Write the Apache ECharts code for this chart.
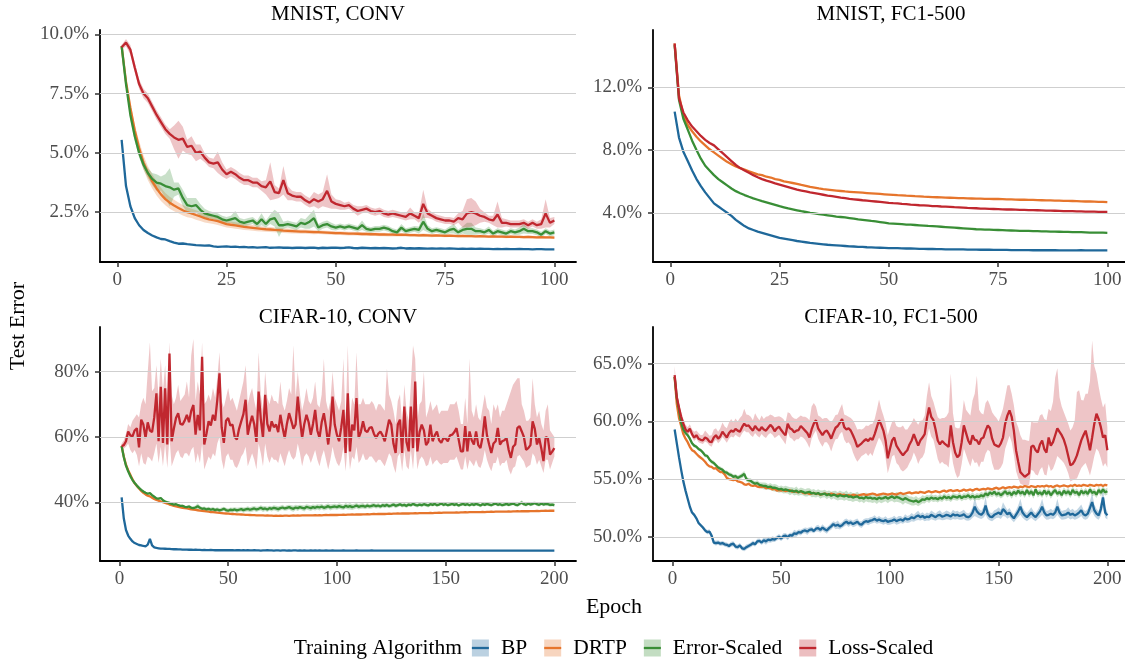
<!DOCTYPE html>
<html><head><meta charset="utf-8">
<script src="https://cdn.jsdelivr.net/npm/echarts@6.0.0/dist/echarts.min.js"></script>
<style>html,body{margin:0;padding:0;background:#fff}#c{width:1125px;height:664px}</style>
</head><body><div id="c"></div>
<script>
// ---------------- DATA (test error, %) ----------------
const epochs100 = Array.from({length:100},(_,i)=>i+1);
const epochs200 = Array.from({length:200},(_,i)=>i+1);

// MNIST, CONV
const mnistConvBP = [
5.55,3.6,2.75,2.25,1.95,1.75,1.62,1.52,1.44,1.37,
1.35,1.28,1.22,1.17,1.18,1.15,1.13,1.11,1.1,1.09,
1.1,1.06,1.04,1.05,1.06,1.04,1.05,1.03,1.04,1.02,
1.03,1.01,1.02,1.03,1.0,1.01,1.02,1.0,1.01,0.99,
1.0,1.01,0.99,1.0,1.01,0.98,1.0,0.99,1.0,1.01,
0.99,1.0,1.02,0.99,0.98,1.0,0.99,0.98,0.99,0.98,
0.99,0.98,0.97,0.98,1.0,0.97,0.98,0.97,0.98,0.97,
0.96,0.97,0.96,0.97,0.96,0.97,0.96,0.95,0.96,0.95,
0.96,0.95,0.96,0.95,0.95,0.94,0.95,0.94,0.95,0.94,
0.94,0.95,0.94,0.94,0.93,0.94,0.94,0.93,0.93,0.93];
const mnistConvDRTP = [
9.5,8.0,6.9,5.95,5.2,4.6,4.15,3.8,3.5,3.25,
3.05,2.9,2.78,2.68,2.58,2.5,2.45,2.38,2.32,2.25,
2.2,2.16,2.12,2.06,2.0,1.97,1.94,1.91,1.88,1.86,
1.84,1.82,1.8,1.78,1.77,1.75,1.74,1.72,1.71,1.7,
1.69,1.68,1.68,1.67,1.66,1.66,1.65,1.64,1.63,1.62,
1.62,1.61,1.6,1.6,1.59,1.58,1.58,1.57,1.57,1.56,
1.56,1.55,1.55,1.54,1.55,1.54,1.53,1.53,1.52,1.53,
1.52,1.51,1.52,1.51,1.5,1.51,1.5,1.49,1.5,1.49,
1.49,1.48,1.49,1.48,1.47,1.48,1.47,1.47,1.46,1.47,
1.46,1.46,1.45,1.46,1.45,1.44,1.45,1.44,1.44,1.43];
const mnistConvDRTPsd = [
0.1,0.15,0.2,0.25,0.3,0.3,0.3,0.3,0.3,0.28,
0.26,0.25,0.24,0.23,0.22,0.21,0.2,0.2,0.19,0.18,
0.17,0.16,0.16,0.15,0.15,0.14,0.14,0.13,0.13,0.12,
0.12,0.12,0.11,0.11,0.11,0.1,0.1,0.1,0.1,0.1,
0.09,0.09,0.09,0.09,0.09,0.08,0.08,0.08,0.08,0.08,
0.08,0.08,0.08,0.08,0.07,0.07,0.07,0.07,0.07,0.07,
0.07,0.07,0.07,0.07,0.07,0.07,0.07,0.07,0.07,0.07,
0.07,0.07,0.06,0.06,0.06,0.06,0.06,0.06,0.06,0.06,
0.06,0.06,0.06,0.06,0.06,0.06,0.06,0.06,0.06,0.06,
0.06,0.06,0.06,0.06,0.06,0.06,0.06,0.06,0.06,0.06];
const mnistConvES = [
9.5,7.9,6.6,5.7,5.0,4.5,4.15,3.9,3.75,3.7,
3.6,3.55,3.45,3.5,3.1,2.8,2.75,2.8,2.6,2.45,
2.4,2.35,2.3,2.2,2.15,2.2,2.25,2.1,2.05,2.1,
2.15,2.0,2.2,2.0,2.2,2.25,1.95,1.95,2.0,1.95,
1.9,2.05,2.0,2.1,2.25,1.85,1.95,2.0,1.9,1.85,
1.9,1.85,1.9,1.85,1.8,1.95,1.8,1.75,1.8,1.8,
1.85,1.8,1.7,1.65,1.85,1.7,1.75,1.8,1.75,2.1,
1.8,1.7,1.75,1.7,1.65,1.75,1.8,1.65,1.75,1.8,
1.8,1.7,1.7,1.65,1.75,1.6,1.7,1.65,1.6,1.7,
1.65,1.7,1.8,1.7,1.7,1.65,1.55,1.7,1.6,1.65];
const mnistConvESsd = [
0.1,0.15,0.2,0.2,0.2,0.2,0.2,0.25,0.35,0.3,
0.5,0.8,0.3,0.25,0.35,0.3,0.35,0.3,0.25,0.2,
0.15,0.15,0.15,0.15,0.15,0.15,0.3,0.15,0.15,0.15,
0.15,0.15,0.25,0.15,0.2,0.35,0.5,0.15,0.15,0.15,
0.15,0.2,0.2,0.3,0.35,0.15,0.15,0.15,0.15,0.12,
0.12,0.12,0.12,0.12,0.12,0.2,0.12,0.12,0.12,0.12,
0.12,0.12,0.12,0.12,0.15,0.12,0.12,0.12,0.15,0.35,
0.15,0.12,0.12,0.12,0.12,0.15,0.2,0.12,0.15,0.25,
0.25,0.15,0.12,0.12,0.15,0.12,0.12,0.12,0.12,0.12,
0.12,0.15,0.2,0.12,0.12,0.12,0.12,0.12,0.12,0.12];
const mnistConvLS = [
9.45,9.65,9.35,8.6,7.9,7.5,7.3,6.95,6.6,6.3,
6.0,5.8,5.65,5.55,5.6,5.25,5.3,5.0,5.05,4.8,
4.6,4.55,4.6,4.3,4.1,4.2,4.1,3.95,3.85,3.85,
3.75,3.75,3.6,3.55,3.8,3.35,3.3,3.85,3.3,3.2,
3.15,3.15,3.0,2.9,3.05,2.95,3.05,3.4,2.95,2.85,
2.8,2.75,2.8,2.65,2.55,2.6,2.65,2.55,2.5,2.55,
2.45,2.4,2.45,2.4,2.35,2.3,2.45,2.35,2.25,2.85,
2.45,2.35,2.25,2.2,2.15,2.15,2.1,2.25,2.2,2.45,
2.5,2.45,2.35,2.3,2.2,2.15,2.4,2.05,2.05,2.0,
2.0,2.0,2.05,1.95,2.05,1.95,2.0,2.45,2.05,2.15];
const mnistConvLSsd = [
0.1,0.15,0.2,0.2,0.2,0.2,0.2,0.2,0.2,0.2,
0.2,0.2,0.5,0.8,0.5,0.3,0.4,0.35,0.3,0.2,
0.2,0.2,0.45,0.3,0.2,0.2,0.2,0.2,0.2,0.2,
0.2,0.2,0.2,0.3,0.8,0.3,0.2,0.6,0.3,0.2,
0.2,0.2,0.2,0.2,0.3,0.3,0.3,0.7,0.3,0.2,
0.2,0.15,0.15,0.15,0.2,0.15,0.15,0.15,0.15,0.15,
0.15,0.15,0.15,0.15,0.15,0.15,0.25,0.15,0.2,0.6,
0.2,0.15,0.15,0.15,0.15,0.15,0.15,0.2,0.35,0.6,
0.6,0.5,0.3,0.2,0.15,0.2,0.55,0.2,0.15,0.15,
0.15,0.15,0.15,0.15,0.15,0.15,0.2,0.6,0.2,0.15];

// MNIST, FC1-500
const mnistFcBP = [
10.45,8.8,7.9,7.3,6.7,6.15,5.7,5.3,4.95,4.6,
4.4,4.2,4.0,3.8,3.55,3.35,3.15,3.0,2.9,2.8,
2.72,2.64,2.56,2.48,2.4,2.35,2.3,2.25,2.2,2.16,
2.12,2.08,2.05,2.02,1.99,1.96,1.94,1.92,1.9,1.88,
1.86,1.85,1.83,1.82,1.8,1.79,1.78,1.77,1.76,1.75,
1.74,1.74,1.73,1.72,1.72,1.71,1.7,1.7,1.69,1.69,
1.68,1.68,1.67,1.67,1.66,1.66,1.66,1.65,1.65,1.65,
1.64,1.64,1.64,1.63,1.63,1.63,1.63,1.62,1.62,1.62,
1.62,1.62,1.61,1.61,1.61,1.61,1.61,1.61,1.6,1.6,
1.6,1.6,1.6,1.61,1.6,1.6,1.6,1.6,1.6,1.6];
const mnistFcDRTP = [
14.8,11.5,10.2,9.6,9.2,8.85,8.55,8.3,8.05,7.85,
7.65,7.45,7.25,7.1,6.95,6.85,6.75,6.65,6.55,6.45,
6.4,6.3,6.25,6.15,6.1,6.0,5.95,5.9,5.85,5.78,
5.72,5.65,5.6,5.55,5.51,5.48,5.45,5.42,5.39,5.36,
5.34,5.32,5.3,5.28,5.26,5.24,5.22,5.2,5.18,5.16,
5.14,5.12,5.11,5.09,5.08,5.06,5.05,5.03,5.02,5.0,
4.99,4.98,4.97,4.96,4.95,4.94,4.93,4.92,4.91,4.9,
4.9,4.89,4.89,4.88,4.88,4.87,4.86,4.85,4.84,4.83,
4.83,4.82,4.82,4.81,4.8,4.79,4.79,4.78,4.77,4.76,
4.76,4.75,4.74,4.73,4.72,4.72,4.71,4.7,4.69,4.68];
const mnistFcES = [
14.7,11.2,10.0,9.3,8.6,8.0,7.45,7.0,6.7,6.4,
6.15,5.95,5.75,5.55,5.38,5.25,5.13,5.02,4.92,4.83,
4.74,4.66,4.58,4.5,4.42,4.35,4.28,4.22,4.16,4.1,
4.05,4.0,3.96,3.92,3.88,3.84,3.8,3.76,3.73,3.7,
3.66,3.62,3.58,3.55,3.52,3.48,3.45,3.41,3.37,3.33,
3.31,3.29,3.27,3.25,3.24,3.22,3.2,3.18,3.16,3.15,
3.13,3.11,3.09,3.07,3.05,3.03,3.01,2.99,2.97,2.95,
2.94,2.93,2.92,2.91,2.9,2.89,2.88,2.87,2.86,2.85,
2.85,2.84,2.83,2.83,2.82,2.81,2.8,2.8,2.79,2.78,
2.78,2.77,2.76,2.76,2.75,2.74,2.74,2.73,2.73,2.72];
const mnistFcLS = [
14.8,11.3,10.4,9.9,9.5,9.2,8.9,8.65,8.45,8.3,
8.05,7.8,7.55,7.3,7.05,6.85,6.7,6.55,6.4,6.27,
6.15,6.05,5.97,5.88,5.8,5.72,5.64,5.56,5.48,5.42,
5.36,5.3,5.25,5.2,5.15,5.1,5.06,5.02,4.97,4.93,
4.89,4.86,4.83,4.8,4.78,4.75,4.72,4.69,4.66,4.63,
4.61,4.6,4.57,4.55,4.52,4.5,4.48,4.47,4.45,4.43,
4.42,4.4,4.39,4.38,4.36,4.35,4.33,4.31,4.3,4.29,
4.27,4.26,4.25,4.24,4.23,4.22,4.21,4.21,4.2,4.19,
4.18,4.17,4.17,4.16,4.15,4.14,4.14,4.13,4.12,4.11,
4.11,4.1,4.09,4.09,4.08,4.07,4.07,4.06,4.05,4.05];

// CIFAR-10, CONV
const cifarConvBP = [
41.5,35.0,31.5,29.8,28.8,28.0,27.5,27.2,26.9,26.8,
26.6,26.5,27.0,28.8,26.8,26.2,26.0,25.9,25.8,25.8,
25.75,25.7,25.7,25.65,25.6,25.6,25.55,25.55,25.5,25.5,
25.5,25.45,25.45,25.4,25.45,25.4,25.4,25.35,25.4,25.35,
25.35,25.4,25.35,25.3,25.35,25.3,25.35,25.3,25.3,25.35,
25.3,25.3,25.25,25.3,25.3,25.25,25.3,25.25,25.3,25.25,
25.25,25.3,25.25,25.25,25.2,25.25,25.25,25.3,25.25,25.25,
25.2,25.25,25.25,25.2,25.25,25.25,25.2,25.25,25.2,25.25,
25.25,25.2,25.25,25.2,25.25,25.2,25.2,25.25,25.2,25.25,
25.2,25.25,25.2,25.2,25.25,25.2,25.2,25.25,25.2,25.2,
25.2,25.2,25.25,25.2,25.2,25.15,25.2,25.2,25.25,25.2,
25.2,25.15,25.2,25.2,25.2,25.25,25.2,25.15,25.2,25.2,
25.2,25.2,25.15,25.2,25.2,25.2,25.15,25.2,25.2,25.15,
25.2,25.2,25.15,25.2,25.15,25.2,25.2,25.15,25.2,25.2,
25.15,25.2,25.2,25.15,25.2,25.15,25.2,25.2,25.15,25.2,
25.2,25.15,25.2,25.15,25.2,25.2,25.15,25.2,25.15,25.2,
25.2,25.15,25.2,25.2,25.15,25.2,25.15,25.2,25.2,25.15,
25.2,25.15,25.2,25.15,25.2,25.2,25.15,25.2,25.15,25.2,
25.15,25.2,25.2,25.15,25.2,25.15,25.2,25.15,25.2,25.2,
25.15,25.2,25.15,25.2,25.15,25.2,25.2,25.15,25.2,25.2];
const cifarConvDRTP = [
57.2,54.0,51.5,49.8,48.4,47.0,45.8,45.0,44.2,43.5,
42.9,42.4,42.0,41.8,41.4,41.0,40.7,40.5,40.2,40.0,
39.8,39.6,39.3,39.1,38.9,38.75,38.6,38.45,38.3,38.2,
38.1,38.0,37.85,37.75,37.65,37.55,37.45,37.4,37.3,37.2,
37.1,37.0,36.95,36.9,36.8,36.75,36.7,36.6,36.55,36.5,
36.45,36.4,36.35,36.3,36.3,36.25,36.2,36.15,36.15,36.1,
36.05,36.05,36.0,36.0,35.95,35.95,35.9,35.95,35.9,35.9,
35.85,35.9,35.85,35.9,35.85,35.9,35.9,35.85,35.9,35.95,
35.9,35.95,35.9,35.95,36.0,35.95,36.0,35.95,36.0,36.05,
36.0,36.05,36.0,36.05,36.1,36.05,36.1,36.1,36.15,36.1,
36.15,36.15,36.2,36.15,36.2,36.2,36.25,36.2,36.25,36.3,
36.25,36.3,36.3,36.35,36.3,36.35,36.4,36.35,36.4,36.4,
36.45,36.4,36.45,36.5,36.45,36.5,36.5,36.55,36.5,36.55,
36.55,36.6,36.55,36.6,36.6,36.65,36.6,36.65,36.7,36.65,
36.7,36.7,36.75,36.7,36.75,36.75,36.8,36.75,36.8,36.8,
36.85,36.8,36.85,36.85,36.9,36.85,36.9,36.9,36.95,36.9,
36.95,36.95,37.0,36.95,37.0,37.0,37.05,37.0,37.05,37.05,
37.1,37.05,37.1,37.1,37.15,37.1,37.15,37.15,37.2,37.15,
37.2,37.2,37.25,37.2,37.25,37.25,37.3,37.25,37.3,37.3,
37.3,37.35,37.3,37.35,37.35,37.4,37.35,37.4,37.4,37.4];
const cifarConvES = [
57.2,53.8,51.2,49.5,48.0,46.8,45.9,45.1,44.4,43.8,
43.3,42.9,42.6,42.8,42.2,41.7,41.2,41.1,41.3,40.6,
40.2,40.0,39.8,39.5,39.3,39.4,39.1,38.9,38.9,38.6,
38.5,38.7,38.3,38.2,38.4,38.8,38.3,38.0,38.1,37.8,
38.0,37.7,37.9,37.6,37.8,37.5,37.7,38.0,37.6,37.4,
37.7,37.6,37.8,37.5,37.7,37.9,37.6,37.8,38.0,37.7,
37.9,38.1,37.8,38.0,38.3,37.9,38.1,37.8,38.2,38.0,
38.3,38.1,37.9,38.2,38.4,38.1,38.3,38.5,38.2,38.0,
38.4,38.2,38.5,38.3,38.1,38.6,38.4,38.2,38.5,38.3,
38.6,38.4,38.7,38.3,38.5,38.8,38.4,38.6,38.7,38.5,
38.8,38.6,38.4,38.9,38.6,38.8,38.5,38.7,39.0,38.6,
38.8,38.9,38.6,39.0,38.7,38.9,39.1,38.8,39.0,38.7,
39.1,38.9,39.2,38.8,39.0,39.3,38.9,39.1,39.4,39.0,
39.2,38.9,39.3,39.1,39.5,39.2,39.0,39.3,39.1,39.4,
39.2,39.0,39.4,39.2,39.5,39.1,39.3,39.6,39.2,39.4,
39.1,39.3,39.5,39.2,39.4,39.0,39.3,39.5,39.2,39.4,
39.1,39.4,39.2,39.5,39.3,39.0,39.4,39.2,39.5,39.3,
39.1,39.4,39.6,39.2,39.4,39.1,39.3,39.5,39.2,39.4,
39.6,39.3,39.1,39.5,39.9,39.4,39.2,39.6,39.3,39.5,
39.7,39.4,39.2,39.6,39.3,39.5,39.4,39.2,39.3,39.1];
const cifarConvESsd = [
.2,.2,.2,.2,.2,.2,.2,.25,.25,.25,
.25,.3,.3,.35,.3,.3,.3,.3,.35,.3,
.3,.35,.3,.35,.3,.35,.4,.35,.4,.4,
.45,.5,.5,.55,.6,.9,.6,.55,.6,.65,
.6,.65,.7,.6,.7,.65,.7,.6,.7,.65,
.7,.75,.7,.8,.7,.75,.8,.7,.8,.75,
.8,.75,.8,.7,.8,.85,.75,.8,.7,.8,
.75,.8,.85,.75,.8,.7,.8,.75,.85,.9,
.8,.85,.75,.8,.9,.8,.85,.9,.8,.85,
.8,.9,.85,.8,.9,.85,.9,.8,.85,.8,
.9,.85,.8,.9,.85,1.0,.9,.85,.8,.85,
.8,.85,.75,.8,.7,.8,.75,.7,.75,.7,
.7,.75,.7,.65,.7,.65,.7,.6,.65,.6,
.6,.65,.6,.55,.6,.55,.6,.55,.6,.55,
.55,.6,.55,.5,.55,.5,.55,.5,.55,.5,
.5,.55,.5,.55,.5,.5,.55,.5,.5,.55,
.5,.5,.55,.5,.5,.55,.5,.5,.55,.5,
.5,.55,.5,.5,.55,.5,.5,.55,.5,.5,
.55,.5,.5,.55,.7,.5,.5,.55,.5,.55,
.5,.55,.5,.5,.55,.5,.5,.55,.5,.5];
const cifarConvLS = [
57.2,57.5,58.7,61.7,60.5,60.2,62.0,62.7,56.8,65.3,
63.8,59.7,64.5,62.0,61.5,66.0,73.4,58.7,75.4,58.2,
74.9,57.7,85.6,58.7,62.5,65.8,67.3,64.0,63.8,65.0,
66.8,64.5,68.0,69.8,60.7,66.8,62.0,84.6,57.7,61.0,
64.8,63.5,66.8,65.0,71.4,79.5,63.0,58.2,65.0,65.8,
63.5,63.8,60.0,59.2,62.5,64.8,67.0,71.4,60.7,64.0,
66.5,63.8,58.5,73.9,65.5,59.7,72.9,64.0,61.7,64.8,
63.0,63.8,61.5,66.8,63.0,59.7,64.0,67.3,65.0,62.5,
63.8,72.4,65.5,59.7,64.0,66.8,64.5,60.7,64.0,68.3,
62.0,59.7,64.5,67.3,63.0,57.7,63.5,72.4,63.8,60.7,
58.7,63.0,68.3,55.1,73.4,55.6,63.8,62.0,71.9,59.7,
61.5,64.8,62.0,61.5,62.8,63.0,61.0,59.7,61.0,61.7,
60.5,58.7,62.0,65.3,63.8,58.0,55.1,63.8,65.3,55.1,
69.3,58.5,55.6,69.3,56.6,77.0,55.6,61.5,63.8,62.0,
57.5,58.5,63.8,58.7,60.5,61.7,59.0,58.2,59.7,59.5,
58.7,60.5,60.7,61.5,62.7,59.2,55.6,55.6,63.3,55.6,
61.7,59.0,57.7,61.7,57.5,56.6,60.0,66.3,60.5,57.7,
55.1,58.0,58.7,62.8,57.7,58.7,59.0,59.7,56.0,53.6,
57.0,57.7,62.8,63.3,61.7,60.0,56.1,56.6,57.5,64.8,
62.5,57.7,59.7,56.5,52.6,60.0,59.7,54.6,55.5,56.6];
const cifarConvLShi = [
58,59,61,64,63,65,66,67,66,70,
72,70,80,89,74,75,82,72,84,74,
82,71,89,73,70,72,76,71,72,73,
77,72,85,90,71,77,73,89,70,71,
73,71,75,72,78,86,71,69,72,75,
71,72,70,68,71,74,77,82,70,73,
75,71,68,86,73,68,80,72,70,73,
71,71,70,77,70,68,71,75,73,88,
72,80,73,68,71,75,71,70,72,77,
70,69,73,84,71,68,71,80,72,70,
68,71,84,64,88,65,72,70,86,70,
70,72,70,70,70,71,70,68,70,70,
69,68,81,73,71,68,64,71,73,64,
76,68,65,76,88,84,65,70,71,80,
66,68,71,68,69,70,67,68,68,68,
68,70,70,70,71,68,64,64,72,64,
84,68,66,70,66,65,69,73,69,68,
64,70,68,70,66,68,68,70,72,74,
76,77,78,78,70,68,65,65,66,78,
70,66,68,64,62,68,70,62,61,60];
const cifarConvLSlo = [
56.6,56.5,57.0,58.0,56.0,55.0,56.0,54.5,51.0,55.0,
52.0,51.5,54.0,53.5,52.5,55.0,58.0,52.0,57.0,51.0,
58.0,50.5,60.0,51.0,53.0,55.0,56.0,54.0,53.5,55.0,
55.0,54.0,56.0,57.0,52.0,55.0,52.0,58.0,50.0,52.0,
54.0,53.0,55.0,54.0,58.0,60.0,53.0,50.0,54.0,55.0,
53.0,53.0,51.0,50.5,52.0,54.0,55.0,57.0,51.0,53.0,
55.0,53.0,50.0,58.0,55.0,51.0,58.0,54.0,52.0,54.0,
53.0,53.0,52.0,55.0,53.0,51.0,54.0,56.0,54.0,53.0,
54.0,58.0,55.0,51.0,54.0,55.0,54.0,52.0,54.0,56.0,
53.0,51.0,54.0,56.0,53.0,50.0,53.0,57.0,54.0,52.0,
51.0,53.0,57.0,49.5,58.0,50.0,54.0,53.0,57.0,52.0,
53.0,55.0,53.0,53.0,54.0,54.0,53.0,52.0,53.0,53.0,
52.0,51.0,53.0,55.0,54.0,51.0,49.0,54.0,55.0,49.5,
56.0,51.0,50.0,56.0,50.0,59.0,50.0,53.0,54.0,53.0,
51.0,51.5,54.0,51.5,52.5,53.0,52.0,51.5,52.0,52.0,
52.0,53.0,53.0,53.0,54.0,52.0,50.0,50.0,54.0,50.0,
53.0,52.0,51.0,53.0,51.0,50.5,52.5,56.0,53.0,51.0,
49.5,52.0,52.0,54.0,51.0,52.0,52.0,53.0,50.0,48.5,
50.5,51.0,54.0,54.5,53.5,52.5,50.5,51.0,51.5,55.0,
54.0,51.5,53.0,51.0,49.0,53.0,53.0,50.0,52.0,54.0];

// CIFAR-10, FC1-500
const cifarFcBP = [
59.3,58.1,56.9,55.8,54.8,54.0,53.3,52.6,52.1,51.9,
51.6,51.2,51.0,50.8,50.55,50.4,50.45,50.1,49.5,49.45,
49.5,49.4,49.45,49.35,49.3,49.2,49.35,49.4,49.15,49.1,
49.25,49.0,48.95,49.1,49.2,49.3,49.45,49.35,49.6,49.65,
49.5,49.7,49.6,49.75,49.7,49.8,49.75,49.9,50.0,49.85,
50.05,50.1,49.95,50.15,50.1,50.3,50.25,50.4,50.35,50.5,
50.55,50.45,50.6,50.65,50.5,50.7,50.75,50.6,50.8,50.65,
50.55,50.75,50.9,51.1,50.95,51.05,50.9,51.0,51.2,51.3,
51.15,51.25,51.1,51.2,51.3,51.1,51.05,51.25,51.35,51.3,
51.4,51.45,51.55,51.4,51.5,51.4,51.35,51.45,51.3,51.35,
51.4,51.5,51.35,51.45,51.5,51.4,51.6,51.5,51.55,51.7,
51.6,51.75,51.85,51.7,51.8,51.65,51.75,51.7,51.9,51.8,
51.7,51.85,51.9,51.75,51.8,51.9,51.85,51.75,51.95,51.85,
51.9,51.8,51.85,51.95,51.75,51.7,51.8,52.1,52.6,52.2,
52.0,51.9,52.1,52.7,52.0,51.75,51.7,51.9,52.0,52.1,
51.95,52.4,52.2,51.95,52.1,51.8,51.6,51.9,52.2,52.6,
52.1,51.85,51.7,51.9,52.1,51.85,51.7,51.95,52.2,52.6,
52.1,51.85,51.9,52.0,51.9,52.1,52.6,52.1,51.85,51.9,
51.95,52.1,51.9,52.0,51.85,51.95,52.1,52.3,51.95,51.85,
52.0,52.5,53.0,52.3,52.0,51.85,52.4,53.4,52.1,51.85];
const cifarFcBPsd = [
.15,.15,.15,.15,.15,.15,.15,.15,.15,.15,
.15,.15,.15,.15,.18,.18,.2,.2,.2,.2,
.2,.2,.2,.2,.2,.2,.22,.22,.22,.2,
.22,.2,.2,.22,.2,.2,.22,.2,.22,.2,
.22,.25,.3,.25,.22,.25,.2,.22,.25,.22,
.25,.22,.25,.2,.25,.3,.25,.22,.25,.22,
.25,.3,.22,.25,.2,.25,.3,.25,.28,.25,
.28,.25,.3,.25,.3,.35,.28,.25,.3,.28,
.3,.25,.28,.3,.28,.25,.3,.28,.25,.3,
.3,.28,.32,.28,.3,.28,.3,.32,.28,.3,
.3,.32,.3,.35,.3,.28,.35,.3,.32,.35,
.3,.35,.4,.3,.32,.3,.35,.32,.38,.35,
.32,.35,.4,.32,.35,.38,.35,.32,.4,.35,
.35,.32,.38,.4,.35,.32,.35,.45,.8,.5,
.4,.35,.45,.8,.45,.35,.35,.4,.38,.45,
.4,.6,.45,.38,.4,.35,.35,.4,.5,.7,
.45,.38,.35,.4,.45,.38,.35,.4,.5,.7,
.45,.38,.4,.42,.38,.45,.7,.45,.38,.4,
.4,.45,.4,.42,.38,.4,.45,.5,.4,.38,
.42,.6,.8,.5,.42,.38,.6,.8,.45,.35];
const cifarFcDRTP = [
63.85,61.5,60.3,59.6,58.9,58.5,58.2,57.8,57.5,57.4,
57.2,57.0,56.85,56.7,56.5,56.25,56.1,56.05,55.9,55.95,
55.75,55.6,55.6,55.4,55.1,55.0,54.95,54.9,54.95,54.8,
54.75,54.7,54.55,54.5,54.6,54.45,54.4,54.45,54.35,54.3,
54.3,54.35,54.2,54.25,54.2,54.1,54.15,54.0,54.05,54.0,
54.05,53.95,54.0,54.05,53.9,53.95,53.9,53.85,53.95,53.8,
53.75,53.8,53.7,53.75,53.8,53.7,53.75,53.65,53.7,53.75,
53.7,53.65,53.75,53.7,53.6,53.65,53.7,53.6,53.65,53.55,
53.6,53.55,53.65,53.6,53.55,53.6,53.65,53.7,53.6,53.65,
53.7,53.75,53.7,53.6,53.65,53.7,53.75,53.7,53.65,53.7,
53.75,53.7,53.65,53.75,53.8,53.7,53.75,53.8,53.85,53.75,
53.8,53.85,53.8,53.9,53.85,53.8,53.9,53.95,53.85,53.9,
53.95,53.9,53.85,53.95,54.0,53.9,54.0,54.05,53.95,54.0,
54.05,53.95,54.0,54.1,54.0,54.05,54.1,54.0,54.1,54.15,
54.05,54.1,54.15,54.1,54.2,54.15,54.1,54.2,54.25,54.15,
54.2,54.3,54.2,54.25,54.3,54.25,54.35,54.3,54.25,54.35,
54.3,54.4,54.35,54.3,54.4,54.35,54.3,54.4,54.35,54.4,
54.35,54.45,54.35,54.4,54.3,54.4,54.45,54.35,54.4,54.45,
54.4,54.35,54.45,54.4,54.5,54.4,54.45,54.4,54.5,54.45,
54.4,54.5,54.45,54.4,54.5,54.45,54.5,54.4,54.5,54.45];
const cifarFcES = [
63.85,62.0,61.0,59.9,59.3,59.0,58.8,58.5,58.1,57.9,
57.8,57.6,57.5,57.3,57.05,57.0,56.7,56.5,56.4,56.2,
56.0,55.9,55.8,55.6,55.55,55.4,55.35,55.2,55.25,55.1,
55.2,55.3,55.45,55.0,54.9,54.85,54.7,54.6,54.65,54.5,
54.45,54.4,54.4,54.3,54.35,54.25,54.25,54.2,54.1,54.15,
54.05,54.1,54.05,53.95,54.0,53.9,54.0,53.85,53.95,53.9,
53.8,53.85,53.9,53.75,53.8,53.7,53.8,53.65,53.7,53.75,
53.6,53.7,53.55,53.65,53.6,53.5,53.6,53.55,53.5,53.6,
53.45,53.5,53.4,53.45,53.5,53.35,53.4,53.3,53.45,53.35,
53.4,53.3,53.35,53.25,53.4,53.3,53.35,53.45,53.3,53.4,
53.5,53.35,53.45,53.4,53.3,53.2,53.35,53.25,53.15,53.1,
53.05,53.15,53.0,53.1,53.25,53.2,53.35,53.25,53.4,53.3,
53.35,53.25,53.4,53.3,53.5,53.35,53.45,53.3,53.5,53.45,
53.4,53.55,53.35,53.5,53.45,53.6,53.4,53.55,53.4,53.5,
53.45,53.6,53.5,53.75,53.6,53.85,53.7,53.9,53.65,53.8,
53.6,53.75,53.95,53.7,53.85,53.6,53.9,53.7,54.0,53.75,
53.9,53.65,54.05,53.7,53.95,53.6,54.1,53.7,53.85,53.65,
54.0,53.7,53.95,53.6,53.85,54.05,53.7,53.9,53.6,54.0,
53.75,53.95,53.65,54.05,53.8,53.9,53.6,54.0,53.75,53.95,
53.7,54.1,53.8,53.9,53.65,54.05,53.8,54.1,53.85,53.95];
const cifarFcESsd = [
.15,.15,.15,.15,.15,.15,.15,.15,.15,.15,
.15,.15,.15,.15,.15,.15,.15,.18,.18,.18,
.18,.18,.18,.18,.2,.2,.2,.2,.2,.2,
.2,.22,.25,.22,.2,.22,.2,.22,.25,.22,
.25,.3,.28,.25,.3,.28,.32,.3,.28,.3,
.3,.32,.3,.35,.3,.32,.35,.3,.32,.3,
.32,.35,.3,.32,.35,.3,.32,.35,.3,.32,
.35,.3,.35,.32,.38,.35,.4,.35,.38,.4,
.35,.4,.38,.35,.4,.38,.35,.4,.38,.35,
.4,.38,.35,.4,.38,.4,.35,.38,.4,.35,
.4,.38,.42,.4,.38,.42,.4,.38,.35,.38,
.35,.38,.35,.32,.35,.32,.3,.32,.3,.28,
.3,.28,.3,.28,.3,.28,.3,.28,.3,.28,
.28,.3,.27,.3,.28,.31,.28,.3,.27,.3,
.28,.3,.29,.3,.28,.32,.28,.3,.27,.3,
.28,.31,.28,.3,.29,.3,.28,.3,.28,.32,
.28,.3,.27,.3,.28,.3,.29,.3,.28,.3,
.28,.31,.28,.3,.28,.3,.27,.3,.28,.3,
.29,.3,.28,.32,.28,.3,.28,.3,.27,.3,
.28,.31,.28,.3,.28,.3,.29,.3,.28,.3];
const cifarFcLS = [
64.0,62.1,61.2,60.4,59.8,59.3,59.1,59.36,58.9,58.6,
58.8,58.5,58.4,58.35,58.6,58.5,58.25,58.2,58.6,58.8,
58.5,58.7,59.1,58.85,58.6,59.0,59.2,59.1,59.35,59.2,
59.1,59.5,59.8,59.6,59.65,59.4,59.2,59.6,59.35,59.2,
59.5,59.3,59.2,59.45,59.7,59.5,59.15,59.4,59.55,59.25,
59.0,58.8,59.8,59.4,59.3,59.05,59.2,59.25,59.6,59.4,
59.2,59.0,58.6,59.3,59.8,60.1,59.4,59.1,58.8,59.1,
59.2,58.9,58.5,59.0,59.45,59.6,59.9,60.2,59.5,59.3,
59.4,59.2,58.8,58.35,57.8,57.95,58.1,58.3,58.45,58.3,
58.55,58.4,58.9,59.5,60.1,59.7,59.2,58.35,56.8,57.6,
58.35,58.6,57.9,57.6,57.3,57.05,57.3,57.5,58.0,58.35,
58.9,58.4,57.9,58.35,58.6,58.9,60.2,61.2,60.4,60.1,
59.3,58.35,58.0,58.3,58.1,57.95,57.8,59.65,58.2,57.3,
56.9,57.1,58.2,59.65,59.0,58.35,58.0,58.8,58.4,58.35,
58.0,58.5,58.6,59.2,59.65,59.4,58.5,58.0,57.9,57.8,
58.1,58.6,59.8,60.5,60.95,60.4,59.2,57.5,56.5,55.6,
55.4,55.2,55.35,55.5,57.8,57.9,57.5,57.3,58.0,58.35,
57.6,57.3,58.6,57.9,58.2,58.8,59.4,59.1,58.8,58.4,
57.8,57.0,56.2,56.3,56.6,57.05,57.7,58.35,58.8,59.2,
58.4,57.5,58.6,59.8,60.66,60.2,59.5,58.6,58.8,57.5];
const cifarFcLSup = [
0.8,0.5,0.4,0.4,0.4,0.4,0.4,0.4,0.4,0.5,
0.4,0.5,0.4,0.5,0.6,0.5,0.5,0.6,0.7,0.6,
0.6,0.7,0.8,0.7,0.8,0.9,1.0,0.8,0.9,0.8,
1.2,1.0,1.3,1.0,0.9,1.0,0.9,1.1,1.0,0.9,
1.0,0.9,1.2,1.0,0.9,1.0,1.2,1.0,0.9,1.1,
1.2,1.1,1.0,1.3,1.1,1.2,1.0,1.1,0.9,1.0,
1.2,1.3,1.5,2.0,1.8,1.2,1.1,1.3,1.4,1.2,
1.1,1.2,1.4,1.2,1.1,1.0,1.2,1.3,1.1,1.2,
1.0,1.1,1.3,1.4,1.5,1.4,1.2,1.1,1.2,1.3,
1.2,1.4,1.3,1.5,1.8,1.4,1.3,1.5,2.0,1.8,
1.6,1.5,1.7,1.9,2.2,2.6,2.0,1.8,1.6,1.5,
1.4,1.6,1.8,1.7,1.5,1.6,2.0,2.2,1.8,1.6,
1.7,2.0,2.2,2.0,2.2,2.5,3.0,4.5,2.5,2.2,
2.5,2.3,2.0,2.2,2.0,2.4,2.5,3.0,4.0,5.6,
3.0,2.2,2.0,2.4,2.2,2.0,2.3,2.5,2.4,2.2,
2.4,2.5,2.3,2.6,2.2,2.0,2.2,2.5,3.0,3.2,
3.0,3.2,3.0,2.8,2.2,2.0,2.4,2.6,2.5,2.3,
2.6,2.8,2.5,3.0,3.5,5.0,5.2,3.0,2.5,2.4,
2.5,2.8,3.0,3.2,3.5,5.5,5.0,3.5,3.0,3.2,
4.0,6.0,8.4,5.0,3.5,2.8,2.5,2.6,2.8,2.0];
const cifarFcLSdn = [
0.3,0.3,0.3,0.3,0.3,0.3,0.3,0.3,0.3,0.3,
0.3,0.3,0.3,0.3,0.35,0.35,0.35,0.4,0.4,0.4,
0.4,0.4,0.45,0.45,0.45,0.5,0.5,0.5,0.5,0.5,
0.5,0.55,0.6,0.55,0.6,0.6,0.55,0.6,0.6,0.6,
0.6,0.6,0.65,0.6,0.7,0.65,0.6,0.7,0.7,0.7,
0.7,0.8,0.7,0.8,0.8,0.8,0.75,0.8,0.9,0.8,
0.8,0.9,0.9,0.8,0.9,0.9,0.9,1.0,1.0,0.9,
1.0,1.0,1.1,1.0,1.0,1.1,1.0,1.1,1.1,1.2,
1.2,1.3,1.5,1.5,1.3,1.2,1.1,1.2,1.2,1.3,
1.3,1.4,1.3,1.4,1.5,1.4,1.4,1.5,1.3,1.4,
1.4,1.5,1.5,1.4,1.5,1.4,1.5,1.5,1.6,1.6,
1.6,1.5,1.6,1.6,1.7,1.6,1.7,1.8,1.7,1.7,
1.7,1.6,1.7,1.8,1.8,1.7,1.8,1.9,1.8,1.7,
1.8,1.8,1.9,2.0,1.9,1.8,1.9,2.0,2.0,1.9,
2.0,2.0,2.1,2.0,2.1,2.0,2.1,2.2,2.1,2.0,
2.1,2.2,2.2,2.3,2.2,2.2,2.1,1.8,1.4,1.0,
0.9,0.8,0.9,1.0,2.0,2.2,2.1,2.0,2.2,2.3,
2.2,2.0,2.3,2.2,2.3,2.4,2.4,2.3,2.2,2.0,
1.8,1.5,1.4,1.4,1.6,2.0,2.2,2.4,2.6,2.8,
2.5,2.2,2.5,2.8,3.0,2.8,2.7,2.5,2.4,1.5];

// tick values
const mnistConvYTicks = [2.5,5,7.5,10];
const mnistFcYTicks = [4,8,12];
const cifarConvYTicks = [40,60,80];
const cifarFcYTicks = [50,55,60,65];
const xTicks100 = [0,25,50,75,100];
const xTicks200 = [0,50,100,150,200];

const algorithms = ['BP','DRTP','Error-Scaled','Loss-Scaled'];
// ---------------- CHART ----------------
const FONT = '"Liberation Serif", "Times New Roman", serif';
const COL = {'BP':'#1F689A','DRTP':'#E6752C','Error-Scaled':'#398E36','Loss-Scaled':'#C0272F'};

const panels = [
 {grid:{left:100,top:30,width:476,height:232}, x:[-3.95,104.95], xt:xTicks100, y:[0.4,10.18], yt:mnistConvYTicks, dec:1, title:'MNIST, CONV', tx:338, ty:14, xs:epochs100,
  s:[{k:'BP',m:mnistConvBP},{k:'DRTP',m:mnistConvDRTP,sd:mnistConvDRTPsd},{k:'Error-Scaled',m:mnistConvES,sd:mnistConvESsd},{k:'Loss-Scaled',m:mnistConvLS,sd:mnistConvLSsd}]},
 {grid:{left:653,top:30,width:472,height:232}, x:[-3.95,104.04], xt:xTicks100, y:[0.86,15.66], yt:mnistFcYTicks, dec:1, title:'MNIST, FC1-500', tx:891, ty:14, xs:epochs100,
  s:[{k:'BP',m:mnistFcBP},{k:'DRTP',m:mnistFcDRTP},{k:'Error-Scaled',m:mnistFcES},{k:'Loss-Scaled',m:mnistFcLS}]},
 {grid:{left:100,top:327,width:476,height:234}, x:[-8.95,209.95], xt:xTicks200, y:[22.0,93.7], yt:cifarConvYTicks, dec:0, title:'CIFAR-10, CONV', tx:338, ty:317, xs:epochs200,
  s:[{k:'BP',m:cifarConvBP},{k:'DRTP',m:cifarConvDRTP},{k:'Error-Scaled',m:cifarConvES,sd:cifarConvESsd},{k:'Loss-Scaled',m:cifarConvLS,lo:cifarConvLSlo,hi:cifarConvLShi}]},
 {grid:{left:653,top:327,width:472,height:234}, x:[-8.95,208.11], xt:xTicks200, y:[47.9,68.18], yt:cifarFcYTicks, dec:1, title:'CIFAR-10, FC1-500', tx:891, ty:317, xs:epochs200,
  s:[{k:'BP',m:cifarFcBP,sd:cifarFcBPsd},{k:'DRTP',m:cifarFcDRTP},{k:'Error-Scaled',m:cifarFcES,sd:cifarFcESsd},{k:'Loss-Scaled',m:cifarFcLS,up:cifarFcLSup,dn:cifarFcLSdn}]}
];

const grid=[], xAxis=[], yAxis=[], series=[], graphic=[];
const axisLineCfg = {show:true,onZero:false,lineStyle:{color:'#000',width:1.8}};
panels.forEach((p,gi)=>{
  grid.push(Object.assign({containLabel:false, outerBoundsMode:'none'}, p.grid));
  xAxis.push({gridIndex:gi,type:'value',min:p.x[0],max:p.x[1],axisLine:axisLineCfg,
    axisTick:{show:true,inside:false,length:5,customValues:p.xt,lineStyle:{color:'#333',width:1.5}},
    axisLabel:{show:true,customValues:p.xt,color:'#4D4D4D',fontFamily:FONT,fontSize:19,margin:9,formatter:v=>String(v)},
    splitLine:{show:false}});
  yAxis.push({gridIndex:gi,type:'value',min:p.y[0],max:p.y[1],axisLine:axisLineCfg,
    axisTick:{show:true,inside:false,length:5,customValues:p.yt,lineStyle:{color:'#333',width:1.5}},
    axisLabel:{show:true,customValues:p.yt,color:'#4D4D4D',fontFamily:FONT,fontSize:19,margin:11,formatter:v=>v.toFixed(p.dec)+'%'},
    splitLine:{show:false}});
  const xs = p.xs;
  series.push({type:'line',xAxisIndex:gi,yAxisIndex:gi,data:[[xs[0],p.s[0].m[0]]],symbol:'none',showSymbol:false,
    lineStyle:{opacity:0},silent:true,z:1,animation:false,
    markLine:{silent:true,symbol:['none','none'],animation:false,label:{show:false},emphasis:{disabled:true},
      lineStyle:{color:'#CFCFCF',width:1,type:'solid'},data:p.yt.map(v=>({yAxis:v}))}});
  p.s.forEach(s=>{
    let lo=null, hi=null;
    if (s.sd){ lo=s.m.map((v,i)=>v-s.sd[i]); hi=s.m.map((v,i)=>v+s.sd[i]); }
    else if (s.lo){ lo=s.lo; hi=s.hi; }
    else if (s.up){ lo=s.m.map((v,i)=>v-s.dn[i]); hi=s.m.map((v,i)=>v+s.up[i]); }
    if (!lo) return;
    const color = COL[s.k];
    const n = Math.min(xs.length, lo.length, hi.length);
    series.push({type:'custom',xAxisIndex:gi,yAxisIndex:gi,silent:true,z:2,animation:false,clip:true,
      data:[[xs[0],lo[0]]],
      renderItem:(params,api)=>{
        const pts=[];
        for(let i=0;i<n;i++) pts.push(api.coord([xs[i],hi[i]]));
        for(let i=n-1;i>=0;i--) pts.push(api.coord([xs[i],lo[i]]));
        return {type:'polygon',shape:{points:pts},style:{fill:color,opacity:0.27,stroke:null}};
      }});
  });
  p.s.forEach(s=>{
    series.push({type:'line',name:s.k,xAxisIndex:gi,yAxisIndex:gi,data:xs.map((x,i)=>[x,s.m[i]]),
      symbol:'none',showSymbol:false,silent:true,z:3,animation:false,
      lineStyle:{color:COL[s.k],width:2.3},itemStyle:{color:COL[s.k]}});
  });
  graphic.push({type:'text',x:p.tx,y:p.ty,silent:true,style:{text:p.title,font:'21px '+FONT,fill:'#000',textAlign:'center',textVerticalAlign:'middle',verticalAlign:'middle'}});
});

graphic.push({type:'text',x:18,y:326,rotation:Math.PI/2,silent:true,style:{text:'Test Error',font:'22px '+FONT,fill:'#000',textAlign:'center',textVerticalAlign:'middle',verticalAlign:'middle'}});
graphic.push({type:'text',x:614,y:607,silent:true,style:{text:'Epoch',font:'22px '+FONT,fill:'#000',textAlign:'center',textVerticalAlign:'middle',verticalAlign:'middle'}});

(function(){
  const LF = '21.5px '+FONT;
  const ctx = document.createElement('canvas').getContext('2d');
  ctx.font = LF;
  const w = t => ctx.measureText(t).width;
  const title = 'Training Algorithm';
  const KEY=17, G1=10, G2=12, G3=17;
  let total = w(title) + G1;
  algorithms.forEach((a,i)=>{ total += KEY + G2 + w(a) + (i<algorithms.length-1?G3:0); });
  let x = 613.5 - total/2; const cy = 648;
  graphic.push({type:'text',x:x,y:cy,silent:true,style:{text:title,font:LF,fill:'#000',textAlign:'left',textVerticalAlign:'middle',verticalAlign:'middle'}});
  x += w(title) + G1;
  algorithms.forEach((a,i)=>{
    graphic.push({type:'rect',silent:true,shape:{x:x,y:cy-KEY/2,width:KEY,height:KEY},style:{fill:COL[a],opacity:0.3}});
    graphic.push({type:'line',silent:true,shape:{x1:x,y1:cy,x2:x+KEY,y2:cy},style:{stroke:COL[a],lineWidth:2.3}});
    x += KEY + G2;
    graphic.push({type:'text',x:x,y:cy,silent:true,style:{text:a,font:LF,fill:'#000',textAlign:'left',textVerticalAlign:'middle',verticalAlign:'middle'}});
    x += w(a) + G3;
  });
})();

const chart = echarts.init(document.getElementById('c'), null, {renderer:'canvas', width:1125, height:664});
chart.setOption({animation:false, backgroundColor:'#fff', textStyle:{fontFamily:FONT}, grid, xAxis, yAxis, series, graphic});
</script></body></html>
